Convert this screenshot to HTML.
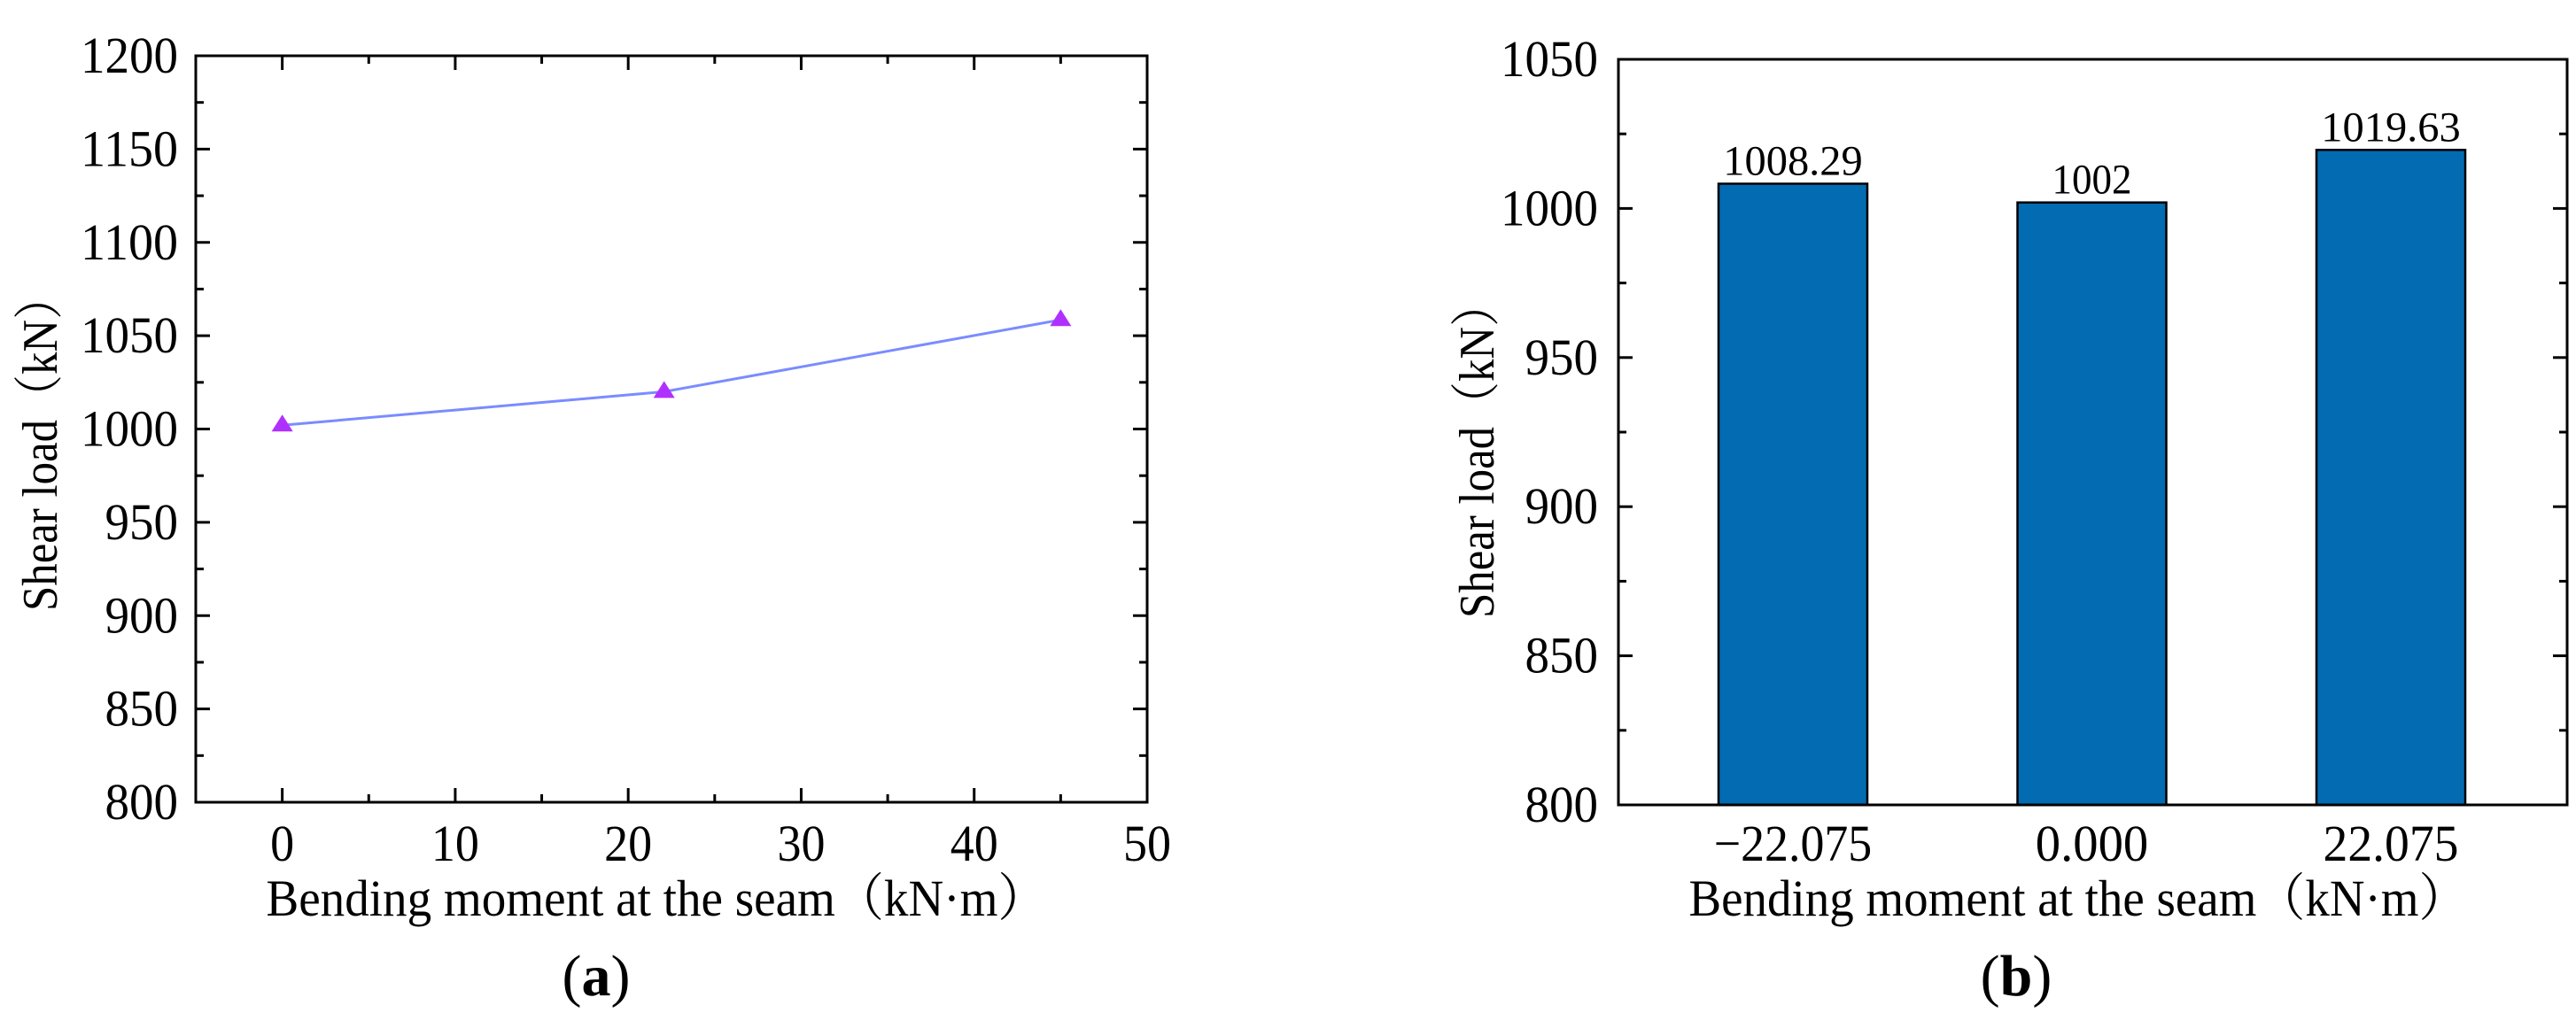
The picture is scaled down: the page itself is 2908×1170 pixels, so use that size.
<!DOCTYPE html>
<html><head><meta charset="utf-8"><style>
html,body{margin:0;padding:0;background:#fff;overflow:hidden;width:2908px;height:1170px;}
svg{display:block;font-family:"Liberation Serif","Noto Serif CJK SC",serif;}
</style></head><body>
<svg id="svg" width="2908" height="1170" viewBox="0 0 2908 1170" xmlns="http://www.w3.org/2000/svg">
<g id="ga"></g>
<g id="gb"></g>
</svg>
<script>
const lineX = [0, 22.075, 45];
const lineY = [1002, 1020, 1058.5];
const aXTicks = [0, 10, 20, 30, 40, 50];
const aYTicks = [800, 850, 900, 950, 1000, 1050, 1100, 1150, 1200];
const barCats = ["\u221222.075", "0.000", "22.075"];
const barVals = [1008.29, 1002, 1019.63];
const barLabels = ["1008.29", "1002", "1019.63"];
const bYTicks = [800, 850, 900, 950, 1000, 1050];

const NS = "http://www.w3.org/2000/svg";
function el(tag, attrs, parent, txt){const e=document.createElementNS(NS,tag);for(const k in attrs)e.setAttribute(k,attrs[k]);if(txt!==undefined)e.textContent=txt;parent.appendChild(e);return e;}

// Chart A
const ga=document.getElementById('ga');
const A={l:221,r:1295,t:63,b:906};
const axX=v=>A.l+(v+5)/55*(A.r-A.l);
const axY=v=>A.b-(v-800)/400*(A.b-A.t);
for(let v=-5; v<=50; v+=5){
  const major=v%10===0, len=major?16:9;
  let t=el('line',{x1:axX(v),x2:axX(v),y1:A.b,y2:A.b-len,stroke:'#000','stroke-width':3},ga);
  
  
  t=el('line',{x1:axX(v),x2:axX(v),y1:A.t,y2:A.t+len,stroke:'#000','stroke-width':3},ga);
  
  
}
for(let v=800; v<=1200; v+=25){
  const major=v%50===0, len=major?16:9;
  let t=el('line',{x1:A.l,x2:A.l+len,y1:axY(v),y2:axY(v),stroke:'#000','stroke-width':3},ga);
  
  
  t=el('line',{x1:A.r,x2:A.r-len,y1:axY(v),y2:axY(v),stroke:'#000','stroke-width':3},ga);
  
  
}
let fa=el('rect',{x:A.l,y:A.t,width:A.r-A.l,height:A.b-A.t,fill:'none',stroke:'#000','stroke-width':3},ga);


aXTicks.forEach(v=>{
  const t=el('text',{x:axX(v),y:972,'font-size':58,'text-anchor':'middle',fill:'#000',textLength:String(v).length*27,lengthAdjust:'spacingAndGlyphs'},ga,String(v));
  
  
});
aYTicks.forEach(v=>{
  const t=el('text',{x:201,y:axY(v)+19,'font-size':58,'text-anchor':'end',fill:'#000',textLength:String(v).length*27.5,lengthAdjust:'spacingAndGlyphs'},ga,String(v));
  
  
});
let pts=lineX.map((x,i)=>axX(x)+','+axY(lineY[i])).join(' ');
let pl=el('polyline',{points:pts,fill:'none',stroke:'#7a8cff','stroke-width':3},ga);


lineX.forEach((x,i)=>{
  const cx=axX(x), cy=axY(lineY[i]);
  const m=el('polygon',{points:`${cx-12},${cy+7} ${cx+12},${cy+7} ${cx},${cy-12}`,fill:'#b030ff'},ga);
  
  
});
let t1=el('text',{x:741,y:1034,'font-size':58,'text-anchor':'middle',fill:'#000',textLength:881,lengthAdjust:'spacingAndGlyphs'},ga,'Bending moment at the seam（kN·m）');


let t2=el('text',{x:0,y:0,'font-size':56,'text-anchor':'middle',fill:'#000',textLength:380,lengthAdjust:'spacingAndGlyphs',transform:'translate(64,500) rotate(-90)'},ga,'Shear load（kN）');


let t3=el('text',{x:673,y:1124,'font-size':66,'text-anchor':'middle',fill:'#000'},ga);
t3.innerHTML='(<tspan font-weight="bold">a</tspan>)';



// Chart B
const gb=document.getElementById('gb');
const B={l:1827,r:2898,t:67,b:909};
const byY=v=>B.b-(v-800)/250*(B.b-B.t);
const bX=i=>B.l+197+i*337.5;
for(let v=800; v<=1050; v+=25){
  const major=v%50===0, len=major?16:9;
  const t=el('line',{x1:B.r,x2:B.r-len,y1:byY(v),y2:byY(v),stroke:'#000','stroke-width':3},gb);
  
  
  const t2=el('line',{x1:B.l,x2:B.l+len,y1:byY(v),y2:byY(v),stroke:'#000','stroke-width':3},gb);
  
  
}
barVals.forEach((v,i)=>{
  const w=168, x=bX(i)-w/2, y=byY(v);
  const r=el('rect',{x:x,y:y,width:w,height:B.b-y,fill:'#036bb1',stroke:'#000','stroke-width':2.5},gb);
  
  
  const t=el('text',{x:bX(i),y:y-10,'font-size':48,'text-anchor':'middle',fill:'#000',textLength:barLabels[i].length*22.5,lengthAdjust:'spacingAndGlyphs'},gb,barLabels[i]);
  
  
  const c=el('text',{x:bX(i),y:972,'font-size':58,'text-anchor':'middle',fill:'#000',textLength:barCats[i].length*25.5,lengthAdjust:'spacingAndGlyphs'},gb,barCats[i]);
  
  
});
let fb=el('rect',{x:B.l,y:B.t,width:B.r-B.l,height:B.b-B.t,fill:'none',stroke:'#000','stroke-width':3},gb);


bYTicks.forEach(v=>{
  const t=el('text',{x:1804,y:byY(v)+19,'font-size':58,'text-anchor':'end',fill:'#000',textLength:String(v).length*27.5,lengthAdjust:'spacingAndGlyphs'},gb,String(v));
  
  
});
let t4=el('text',{x:2346,y:1034,'font-size':58,'text-anchor':'middle',fill:'#000',textLength:879,lengthAdjust:'spacingAndGlyphs'},gb,'Bending moment at the seam（kN·m）');


let t5=el('text',{x:0,y:0,'font-size':56,'text-anchor':'middle',fill:'#000',textLength:380,lengthAdjust:'spacingAndGlyphs',transform:'translate(1686,508) rotate(-90)'},gb,'Shear load（kN）');


let t6=el('text',{x:2276,y:1124,'font-size':66,'text-anchor':'middle',fill:'#000'},gb);
t6.innerHTML='(<tspan font-weight="bold">b</tspan>)';


</script>
</body></html>
